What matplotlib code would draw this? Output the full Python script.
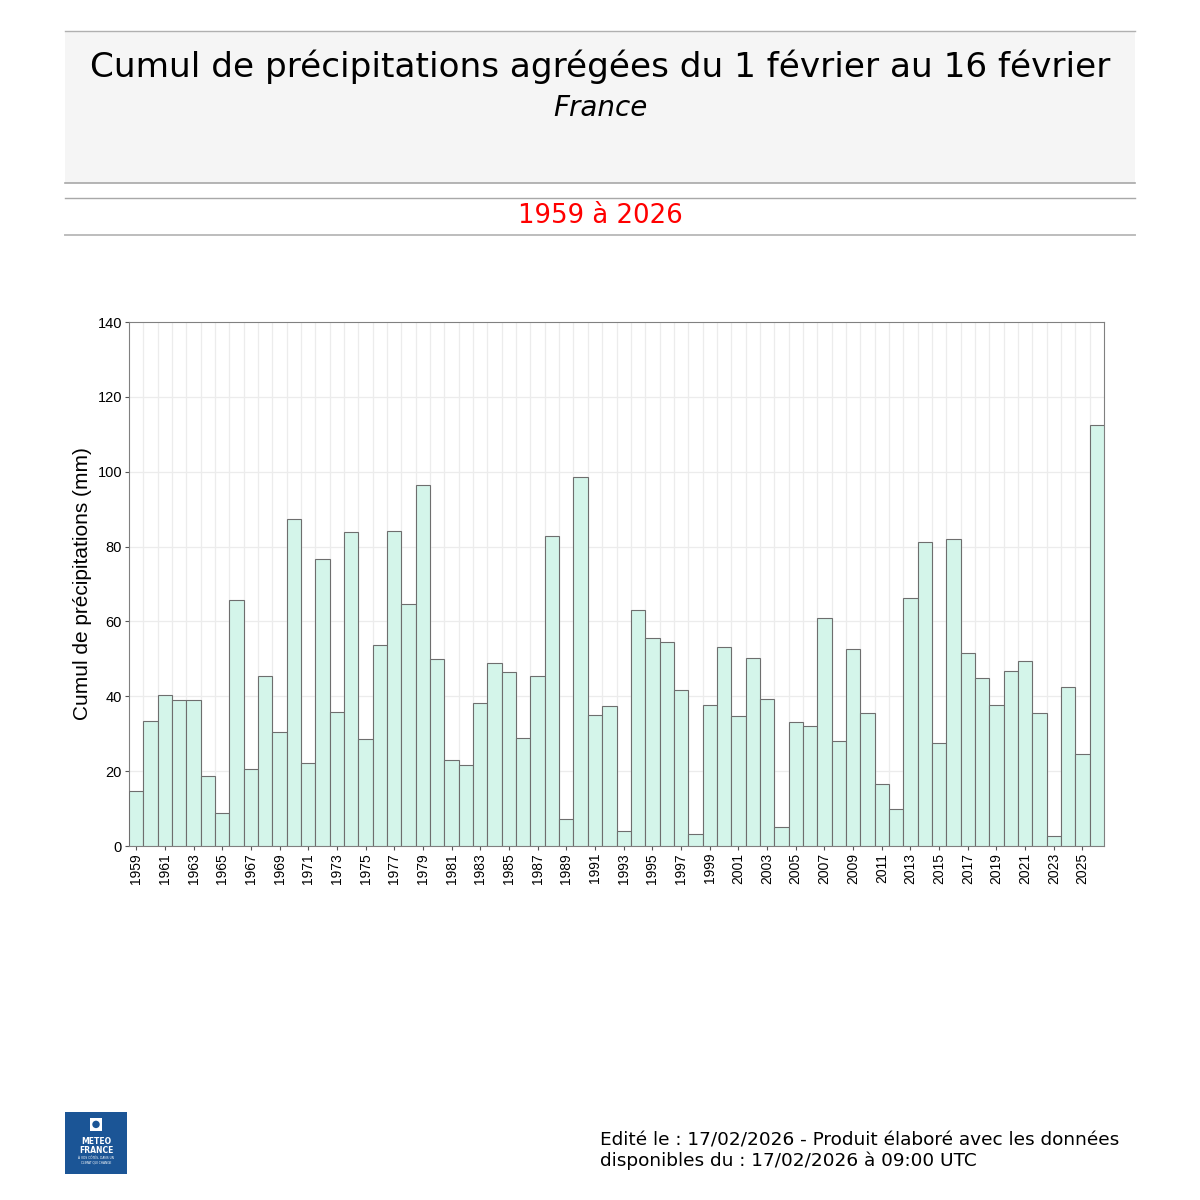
import matplotlib
matplotlib.use("Agg")
import matplotlib.pyplot as plt
from matplotlib.lines import Line2D
import numpy as np

# données
annees = list(range(1959, 2027))
cumul = [14.8, 33.5, 40.3, 39.0, 39.1, 18.6, 8.8, 65.6, 20.5, 45.5,
         30.5, 87.4, 22.1, 76.6, 35.7, 83.9, 28.6, 53.8, 84.1, 64.7,
         96.5, 49.9, 23.0, 21.6, 38.2, 49.0, 46.5, 28.9, 45.4, 82.9,
         7.2, 98.5, 35.1, 37.5, 4.0, 63.0, 55.5, 54.4, 41.6, 3.3,
         37.8, 53.2, 34.8, 50.3, 39.4, 5.0, 33.0, 32.0, 60.9, 28.1,
         52.6, 35.5, 16.5, 9.8, 66.3, 81.2, 27.5, 82.0, 51.5, 45.0,
         37.8, 46.7, 49.3, 35.6, 2.7, 42.6, 24.5, 112.4]
etiquettes = [str(a) for a in annees[::2]]

titre = "Cumul de précipitations agrégées du 1 février au 16 février"
zone = "France"
periode = "1959 à 2026"
pied = "Edité le : 17/02/2026 - Produit élaboré avec les données\ndisponibles du : 17/02/2026 à 09:00 UTC"

fig = plt.figure(figsize=(12, 12), dpi=100)

def ligne(y_px, couleur="#a8a8a8", ep=1.0):
    y = 1 - y_px / 1200
    fig.add_artist(Line2D([65/1200, 1135/1200], [y, y], color=couleur, lw=ep))

# bandeau du titre
fig.add_artist(plt.Rectangle((65/1200, 1-183/1200), 1070/1200, 152/1200,
                             facecolor="#f5f5f5", edgecolor="none", transform=fig.transFigure))
ligne(31, "#b0b0b0", 1.0)
ligne(183, "#a8a8a8", 1.2)
ligne(198, "#a8a8a8", 1.0)
ligne(235, "#bdbdbd", 1.4)
fig.text(0.5, 1-67/1200, titre, ha="center", va="center", fontsize=24.7, family="DejaVu Sans")
fig.text(0.5, 1-108/1200, zone, ha="center", va="center", fontsize=20, style="italic", family="DejaVu Sans")
fig.text(0.5, 1-216/1200, periode, ha="center", va="center", fontsize=18.7, color="red", family="DejaVu Sans")

# graphique principal
ax = fig.add_axes([129/1200, 1-846/1200, 975/1200, 524/1200])
x = np.arange(len(annees))
ax.bar(x, cumul, width=1.0, color="#d4f5ea", edgecolor="#6e6e6e", linewidth=0.8, zorder=3)
ax.set_xlim(-0.5, len(annees) - 0.5)
ax.set_ylim(0, 140)
ax.vlines(x[:-1] + 0.5, 0, 140, color="#ececec", lw=0.9, zorder=0)
ax.hlines(np.arange(20, 140, 20), -0.5, len(annees) - 0.5, color="#ececec", lw=0.9, zorder=0)
ax.set_yticks(np.arange(0, 141, 20))
ax.set_xticks(x[::2])
ax.set_xticklabels(etiquettes, rotation=90, family="Liberation Sans", fontsize=10)
for lab in ax.get_yticklabels():
    lab.set_family("Liberation Sans")
    lab.set_fontsize(10.5)
ax.tick_params(axis="both", which="major", length=3, color="#555555", pad=2)
for s in ax.spines.values():
    s.set_color("#808080")
ax.set_ylabel("Cumul de précipitations (mm)", fontsize=15, family="Liberation Sans", labelpad=4)

# pied de page
fig.text(600/1200, 1-1151/1200, pied, ha="left", va="center", fontsize=13.3, family="DejaVu Sans", linespacing=1.15)

# logo
logo = fig.add_axes([65/1200, 1-1174/1200, 62/1200, 62/1200])
logo.set_xlim(0, 1); logo.set_ylim(0, 1)
logo.axis("off")
logo.add_patch(plt.Rectangle((0, 0), 1, 1, facecolor="#1b5596", edgecolor="none"))
logo.add_patch(plt.Rectangle((0.4, 0.7), 0.2, 0.2, facecolor="white", edgecolor="none"))
logo.add_patch(plt.Circle((0.5, 0.8), 0.06, facecolor="#1b5596", edgecolor="none"))
logo.text(0.5, 0.52, "METEO", color="white", ha="center", va="center", fontsize=5.5, weight="bold")
logo.text(0.5, 0.38, "FRANCE", color="white", ha="center", va="center", fontsize=5.5, weight="bold")
logo.text(0.5, 0.22, "À VOS CÔTÉS, DANS UN\nCLIMAT QUI CHANGE", color="white", ha="center", va="center", fontsize=2.2)

fig.savefig("out.png", dpi=100, facecolor="white")
